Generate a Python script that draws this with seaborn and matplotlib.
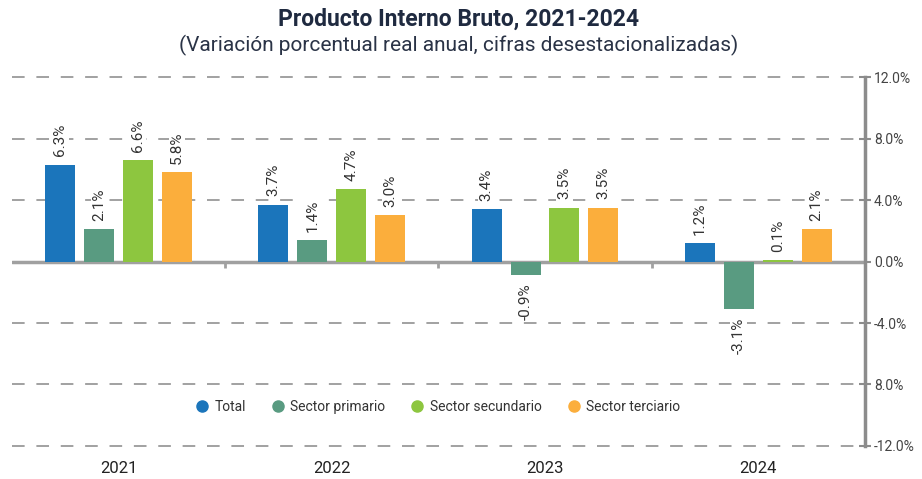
import pandas as pd
import matplotlib
matplotlib.use("Agg")
import matplotlib.pyplot as plt
from matplotlib.lines import Line2D
import seaborn as sns

sns.set_style("white")
plt.rcParams['font.family'] = ['Roboto', 'DejaVu Sans']

# data
years = ["2021", "2022", "2023", "2024"]
sectors = ["Total", "Sector primario", "Sector secundario", "Sector terciario"]
total = [6.3, 3.7, 3.4, 1.2]
primario = [2.1, 1.4, -0.9, -3.1]
secundario = [6.6, 4.7, 3.5, 0.1]
terciario = [5.8, 3.0, 3.5, 2.1]
yticks = [12, 8, 4, 0, -4, -8, -12]
ytick_labels = ["12.0%", "8.0%", "4.0%", "0.0%", "-4.0%", "8.0%", "-12.0%"]
colors = ["#1b75bb", "#599b81", "#8dc63f", "#fbae3c"]

rows = []
for s, vals in zip(sectors, [total, primario, secundario, terciario]):
    for y, v in zip(years, vals):
        rows.append({"year": y, "sector": s, "value": v})
df = pd.DataFrame(rows)

fig = plt.figure(figsize=(9.22, 4.79), dpi=100)
ax = fig.add_axes([0.013, 0.069, 0.925, 0.770])

sns.barplot(data=df, x="year", y="value", hue="sector", hue_order=sectors,
            palette=colors, width=0.73, gap=0.23, legend=False, ax=ax,
            saturation=1, zorder=3, linewidth=0, edgecolor="none")

ax.set_xlim(-0.5, 3.5)
ax.set_ylim(-12, 12)

# dashed grid
for t in yticks:
    if t != 0:
        ax.axhline(t, color="#9a9a9a", lw=1.3, ls=(0, (7, 6.5)), zorder=1, clip_on=False)
ax.axhline(0, color="#a0a0a0", lw=2.5, zorder=2.5)
# boundary ticks on the zero line
for b in [0.5, 1.5, 2.5]:
    ax.plot([b, b], [0, -0.45], color="#a0a0a0", lw=2, zorder=2.5, solid_capstyle="butt")

for cont in ax.containers:
    labels = [f"{v:.1f}%" for v in cont.datavalues]
    ax.bar_label(cont, labels=labels, rotation=90, padding=6,
                 fontsize=11, color="#333333",
                 bbox=dict(facecolor="white", edgecolor="none", pad=1))

ax.yaxis.tick_right()
ax.set_yticks(yticks)
ax.set_yticklabels(ytick_labels, fontsize=10, color="#444444")
ax.tick_params(axis="y", direction="inout", length=9, width=1.5, color="#8c8c8c", pad=2)
ax.tick_params(axis="x", length=0, pad=11, labelsize=12, labelcolor="#222222")
ax.set_xlabel("")
ax.set_ylabel("")

for sp in ["left", "top", "bottom"]:
    ax.spines[sp].set_visible(False)
ax.spines["right"].set_color("#8c8c8c")
ax.spines["right"].set_linewidth(2.5)

handles = [Line2D([], [], marker="o", ls="", markersize=8, markerfacecolor=c,
                  markeredgecolor=c, label=s) for s, c in zip(sectors, colors)]
ax.legend(handles=handles, loc="center", bbox_to_anchor=(0.5, 0.105), ncol=4,
          frameon=False, fontsize=10, handlelength=0.8, handletextpad=0.5,
          columnspacing=1.9, labelcolor="#333333")

fig.text(0.497, 0.96, "Producto Interno Bruto, 2021-2024", ha="center", va="center",
         fontsize=16.5, fontweight="bold", color="#1f2a40")
fig.text(0.497, 0.905, "(Variación porcentual real anual, cifras desestacionalizadas)",
         ha="center", va="center", fontsize=15, color="#2a3346")

fig.savefig("out.png", dpi=100)
